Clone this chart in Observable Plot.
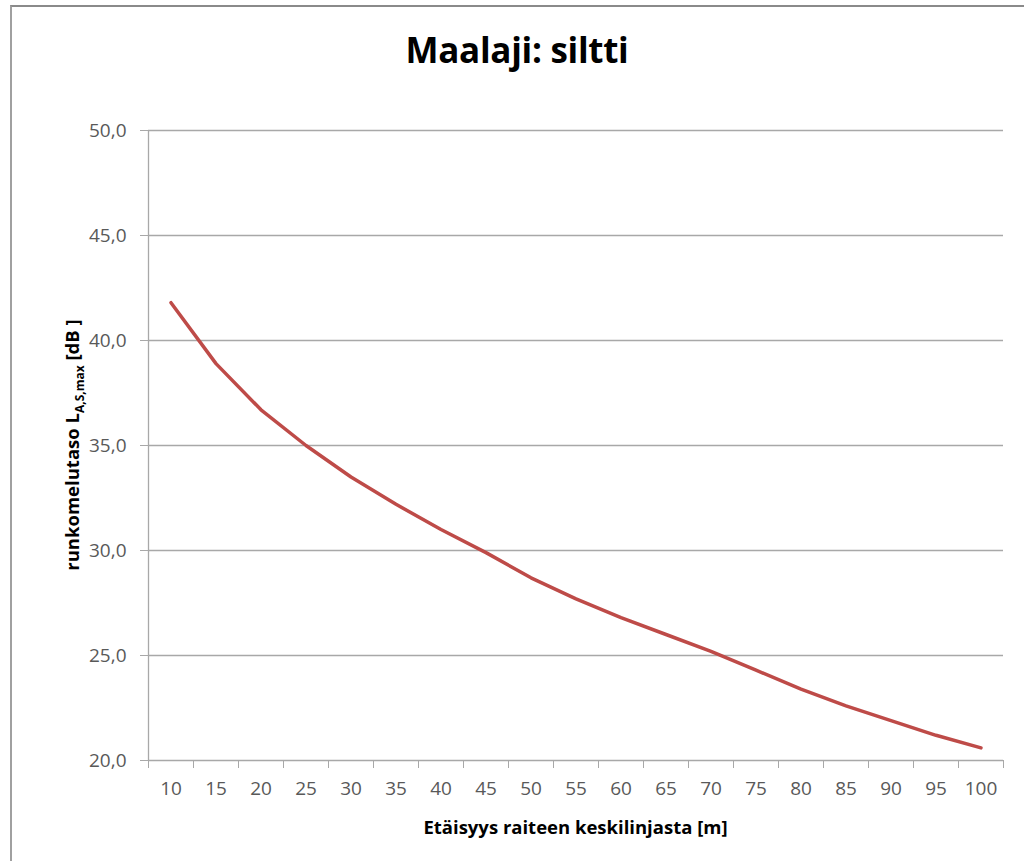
<!DOCTYPE html>
<html>
<head>
<meta charset="utf-8">
<script src="https://cdn.jsdelivr.net/npm/d3@7"></script>
<script src="https://cdn.jsdelivr.net/npm/@observablehq/plot@0.6"></script>
<style>
  html, body { margin: 0; padding: 0; background: #fff; }
  #wrap { position: relative; width: 1024px; height: 861px; overflow: hidden; }
  #frame { position: absolute; left: 10px; top: 5px; width: 1030px; height: 870px;
           border-top: 2px solid #8a8a8a; border-left: 2px solid #a0a0a0; box-sizing: border-box; }
  #title { position: relative; height: 90px; padding-left: 10px; width: 1014px; text-align: center;
           font-family: "Open Sans", "Liberation Sans", sans-serif; font-weight: 700; font-size: 35px;
           line-height: 100px; color: #000; letter-spacing: -0.3px; }
  #chart svg { display: block; }
</style>
</head>
<body>
<div id="wrap">
  <div id="frame"></div>
  <div id="title">Maalaji: siltti</div>
  <div id="chart"></div>
</div>
<script>
const categories = [10, 15, 20, 25, 30, 35, 40, 45, 50, 55, 60, 65, 70, 75, 80, 85, 90, 95, 100];
const values = [41.8, 38.9, 36.7, 35.0, 33.5, 32.2, 31.0, 29.9, 28.7, 27.7, 26.8, 26.0, 25.2, 24.3, 23.4, 22.6, 21.9, 21.2, 20.6];
const yTicks = [20, 25, 30, 35, 40, 45, 50];
const xTitle = "Etäisyys raiteen keskilinjasta [m]";
const yTitleMain = "runkomelutaso L";
const yTitleSub = "A,S,max";
const yTitleEnd = " [dB ]";

const data = categories.map((d, i) => ({dist: d, level: values[i]}));
const step = categories[1] - categories[0];
const bounds = d3.range(categories.length + 1).map(i => categories[0] - step / 2 + i * step);
const fmt = d => d.toFixed(1).replace(".", ",");

const W = 1024, H = 771, mT = 40, mB = 101, mL = 148, mR = 21;
const gridColor = "#a8a8a8";
const font = "'Open Sans', 'Liberation Sans', sans-serif";

const chart = Plot.plot({
  width: W, height: H,
  marginTop: mT, marginBottom: mB, marginLeft: mL, marginRight: mR,
  style: {fontFamily: font, fontSize: "19px", color: "#595959", background: "transparent", overflow: "visible"},
  x: {type: "linear", domain: [bounds[0], bounds[bounds.length - 1]]},
  y: {domain: [yTicks[0], yTicks[yTicks.length - 1]]},
  marks: [
    Plot.gridY(yTicks, {stroke: gridColor, strokeOpacity: 1, strokeWidth: 1.3}),
    Plot.ruleX([bounds[0]], {stroke: gridColor, strokeWidth: 1.3}),
    Plot.axisY(yTicks, {tickSize: 8, tickPadding: 14, tickFormat: fmt, label: null, stroke: gridColor, strokeOpacity: 1, fill: "#595959"}),
    Plot.axisX(bounds, {tickSize: 8, tickFormat: () => "", label: null, stroke: gridColor, strokeOpacity: 1}),
    Plot.axisX(categories, {tickSize: 0, tickPadding: 21, tickFormat: d => String(d), label: null, fill: "#595959"}),
    Plot.line(data, {x: "dist", y: "level", stroke: "#be4b48", strokeWidth: 3.5, curve: "linear"})
  ]
});
document.getElementById("chart").appendChild(chart);

const svg = d3.select(chart);
const xs = chart.scale("x"), ys = chart.scale("y");
const cx = (xs.range[0] + xs.range[1]) / 2;
const cy = (ys.range[0] + ys.range[1]) / 2;

svg.append("text")
  .attr("x", cx).attr("y", H - 27)
  .attr("text-anchor", "middle")
  .style("font-family", font).style("font-weight", "700").style("font-size", "18.5px").style("fill", "#000")
  .text(xTitle);

const yt = svg.append("text")
  .attr("transform", `translate(79,${cy}) rotate(-90)`)
  .attr("text-anchor", "middle")
  .style("font-family", font).style("font-weight", "700").style("font-size", "18.5px").style("fill", "#000");
yt.append("tspan").text(yTitleMain);
yt.append("tspan").attr("dy", 5).style("font-size", "12px").text(yTitleSub);
yt.append("tspan").attr("dy", -5).text(yTitleEnd);
</script>
</body>
</html>
